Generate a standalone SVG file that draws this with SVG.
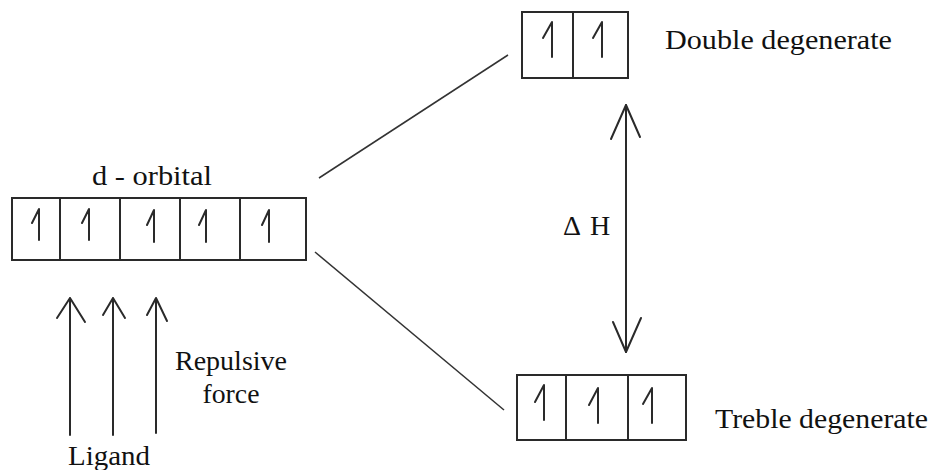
<svg xmlns="http://www.w3.org/2000/svg" width="937" height="470" viewBox="0 0 937 470">
<style>
  .box { fill: none; stroke: #2a2a2a; stroke-width: 2; }
  .ln { fill: none; stroke: #2a2a2a; stroke-width: 2; stroke-linecap: round; stroke-linejoin: round; }
  .thin { fill: none; stroke: #333; stroke-width: 1.5; }
  .t { font-family: 'Liberation Serif', Tinos, 'Times New Roman', Times, 'Nimbus Roman', 'Noto Serif', FreeSerif, 'DejaVu Serif', serif; font-size: 28px; fill: #111; }
</style>
<rect width="937" height="470" fill="#fff"/>

<g id="d-orbital">
  <rect class="box" x="12" y="198" width="294" height="62"/>
  <path class="ln" d="M60 198 V260 M120 198 V260 M180 198 V260 M240 198 V260"/>
  <path class="ln" d="M39 240 V209 L32 223 M89 240 V209 L82 223 M154 242 V210 L147 225 M206 242 V210 L199 225 M269 242 V210 L262 225"/>
  <text class="t" x="152" y="185" text-anchor="middle" textLength="120" lengthAdjust="spacingAndGlyphs">d - orbital</text>
</g>

<g id="double-degenerate">
  <rect class="box" x="522" y="12" width="106" height="66"/>
  <path class="ln" d="M573 12 V78"/>
  <path class="ln" d="M552 57 V22 L543 38 M602 57 V22 L593 38"/>
  <text class="t" x="665" y="49" textLength="227" lengthAdjust="spacingAndGlyphs">Double degenerate</text>
</g>

<g id="treble-degenerate">
  <rect class="box" x="517" y="375" width="169" height="65"/>
  <path class="ln" d="M566 375 V440 M628 375 V440"/>
  <path class="ln" d="M544 420 V385 L535 402 M598 423 V388 L589 405 M652 423 V388 L643 404"/>
  <text class="t" x="715" y="428" textLength="213" lengthAdjust="spacingAndGlyphs">Treble degenerate</text>
</g>

<g id="ligand">
  <text class="t" x="109" y="465" text-anchor="middle" textLength="82" lengthAdjust="spacingAndGlyphs">Ligand</text>
</g>

<g id="repulsive-force">
  <text class="t" x="231" y="370" text-anchor="middle" textLength="112" lengthAdjust="spacingAndGlyphs">Repulsive</text>
  <text class="t" x="231" y="403" text-anchor="middle" textLength="57" lengthAdjust="spacingAndGlyphs">force</text>
</g>

<g id="delta-h">
  <text class="t" x="563" y="235"><tspan>Δ</tspan><tspan x="590">H</tspan></text>
</g>

<g id="connectors">
  <path class="thin" d="M319 178 L508 55"/>
  <path class="thin" d="M315 252 L504 410"/>
  <path class="ln" d="M626 105 V352"/>
  <path class="ln" d="M611 139 L626 105 L640 137"/>
  <path class="ln" d="M613 322 L626 352 L641 318"/>
  <path class="ln" d="M70 435 V298 M57 318 L70 298 L85 322"/>
  <path class="ln" d="M113 435 V298 M103 315 L113 298 L125 318"/>
  <path class="ln" d="M156 433 V298 M147 315 L156 298 L167 321"/>
</g>
</svg>
